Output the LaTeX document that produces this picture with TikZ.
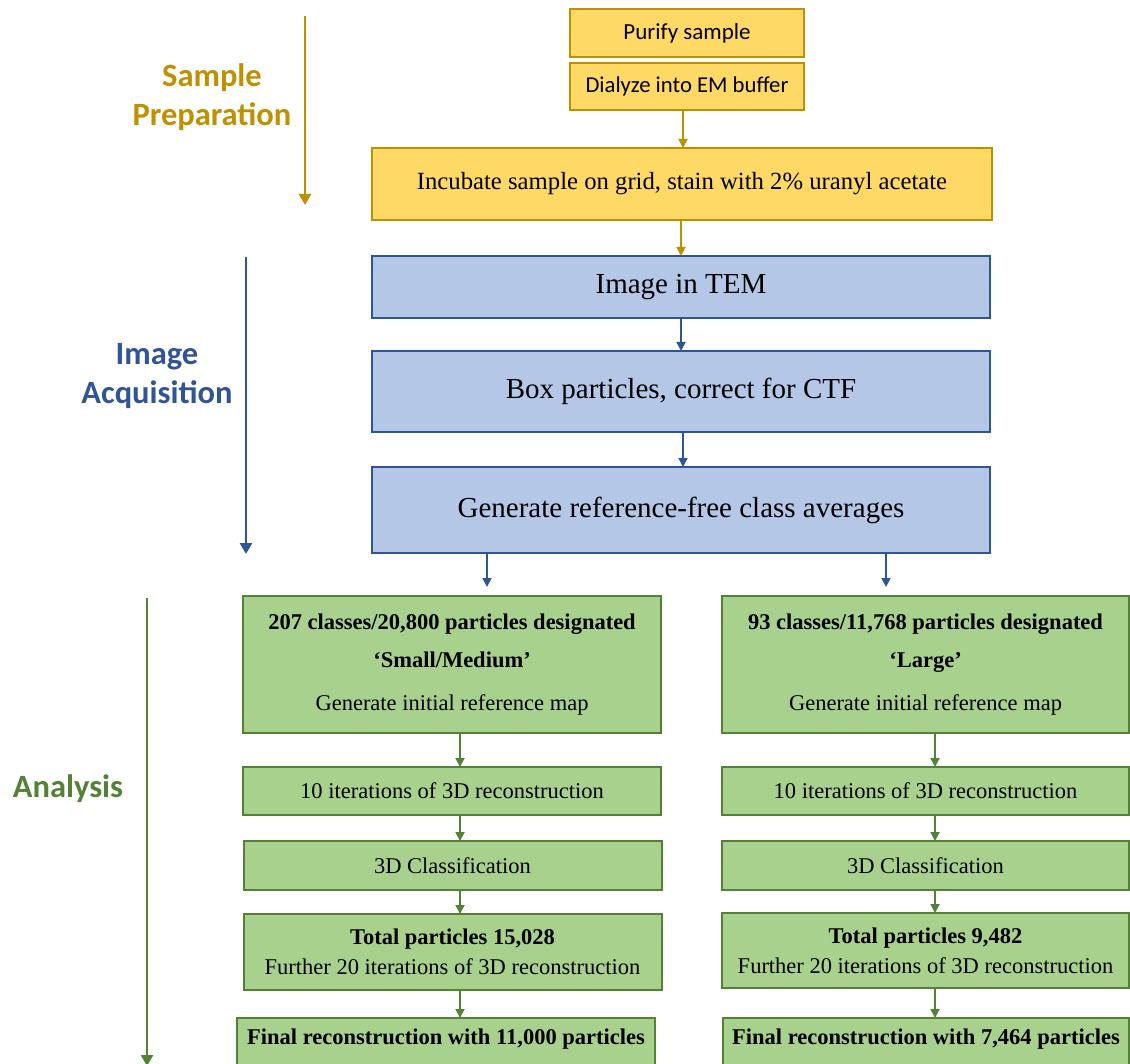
\documentclass[tikz,border=0pt]{standalone}
\usepackage{fontspec}
\setmainfont{Liberation Serif}
\newfontfamily\calib{Carlito}
\usetikzlibrary{arrows.meta,calc}
\definecolor{yfill}{HTML}{FFD966}
\definecolor{ydraw}{HTML}{BF9000}
\definecolor{bfill}{HTML}{B4C7E7}
\definecolor{bdraw}{HTML}{2F5597}
\definecolor{gfill}{HTML}{A9D18E}
\definecolor{gdraw}{HTML}{538135}
\definecolor{ylab}{HTML}{C09000}
\tikzset{
  base/.style={rectangle, inner sep=2pt, outer sep=0pt, line width=2pt, align=center, text=black},
  ybox/.style={base, fill=yfill, draw=ydraw},
  bbox/.style={base, fill=bfill, draw=bdraw, font=\fontsize{29}{34}\selectfont},
  gbox/.style={base, fill=gfill, draw=gdraw, font=\fontsize{22.5}{30}\selectfont},
  yarr/.style={draw=ydraw, line width=1.8pt, -{Triangle[width=9pt,length=9pt]}},
  barr/.style={draw=bdraw, line width=1.8pt, -{Triangle[width=9pt,length=9pt]}},
  garr/.style={draw=gdraw, line width=1.8pt, -{Triangle[width=9pt,length=9pt]}},
  tarr/.style={line width=2.6pt, -{Triangle[width=12pt,length=11pt]}},
  lab/.style={align=center, font=\calib\bfseries\fontsize{32.5}{39}\selectfont}
}
\begin{document}
\begin{tikzpicture}[x=1pt,y=-1pt]
\useasboundingbox (0,0) rectangle (1130,1064);
\clip (0,0) rectangle (1130,1064);

% timeline labels and arrows
\coordinate (t1a) at (305,16);
\coordinate (t1b) at (305,205);
\draw[tarr, draw=ydraw] (t1a) -- (t1b);
\node[lab, text=ylab] (lsp) at (212,97) {Sample\\Preparation};

\coordinate (t2a) at (246,257);
\coordinate (t2b) at (246,554);
\draw[tarr, draw=bdraw] (t2a) -- (t2b);
\node[lab, text=bdraw] (lia) at (157,376) {Image\\Acquisition};

\coordinate (t3a) at (147,598);
\coordinate (t3b) at (147,1066);
\draw[tarr, draw=gdraw] (t3a) -- (t3b);
\node[lab, text=gdraw] (lan) at (68,789) {Analysis};

% yellow boxes
\node[ybox, minimum width=234pt, minimum height=48pt, font=\calib\fontsize{23}{27}\selectfont] (purify) at (687,33) {Purify sample};
\node[ybox, minimum width=234pt, minimum height=47pt, font=\calib\fontsize{22.7}{27}\selectfont] (dialyze) at (687,86.5) {Dialyze into EM buffer};
\node[ybox, minimum width=620pt, minimum height=72pt, font=\fontsize{24.7}{29}\selectfont] (incubate) at (682,184) {Incubate sample on grid, stain with 2\% uranyl acetate};

% blue boxes
\node[bbox, minimum width=618pt, minimum height=62pt] (tem) at (681,287) {Image in TEM};
\node[bbox, minimum width=618pt, minimum height=81pt] (boxp) at (681,391.5) {Box particles, correct for CTF};
\node[bbox, minimum width=618pt, minimum height=86pt] (gen) at (681,510) {Generate reference-free class averages};

% green boxes left
\node[gbox, minimum width=418pt, minimum height=137pt] (L1) at (452,664.5) {\textbf{207 classes/20,800 particles designated}\\[8pt]\textbf{‘Small/Medium’}\\[13pt]Generate initial reference map};
\node[gbox, minimum width=418pt, minimum height=48pt] (L2) at (452,791) {10 iterations of 3D reconstruction};
\node[gbox, minimum width=418pt, minimum height=49pt] (L3) at (452.5,865.5) {3D Classification};
\node[gbox, minimum width=418pt, minimum height=76pt] (L4) at (452.5,952) {\textbf{Total particles 15,028}\\Further 20 iterations of 3D reconstruction};
\node[gbox, minimum width=418pt, minimum height=62pt, text depth=24pt] (L5) at (446,1049) {\textbf{Final reconstruction with 11,000 particles}};

% green boxes right
\node[gbox, minimum width=407pt, minimum height=137pt] (R1) at (925.5,664.5) {\textbf{93 classes/11,768 particles designated}\\[8pt]\textbf{‘Large’}\\[13pt]Generate initial reference map};
\node[gbox, minimum width=407pt, minimum height=48pt] (R2) at (925.5,791) {10 iterations of 3D reconstruction};
\node[gbox, minimum width=407pt, minimum height=49pt] (R3) at (925.5,865.5) {3D Classification};
\node[gbox, minimum width=407pt, minimum height=75pt] (R4) at (925.5,950.5) {\textbf{Total particles 9,482}\\Further 20 iterations of 3D reconstruction};
\node[gbox, minimum width=406pt, minimum height=62pt, text depth=24pt] (R5) at (926,1049) {\textbf{Final reconstruction with 7,464 particles}};

% arrows
\draw[yarr] ([xshift=-4pt]dialyze.south) -- ([xshift=-4pt]dialyze.south |- incubate.north);
\draw[yarr] ([xshift=-1pt]incubate.south) -- ([xshift=-1pt]incubate.south |- tem.north);
\draw[barr] (tem.south) -- (tem.south |- boxp.north);
\draw[barr] ([xshift=2pt]boxp.south) -- ([xshift=2pt]boxp.south |- gen.north);
\draw[barr, shorten >=9pt] ([xshift=-194pt]gen.south) -- ([xshift=-194pt]gen.south |- L1.north);
\draw[barr, shorten >=9pt] ([xshift=205pt]gen.south) -- ([xshift=205pt]gen.south |- R1.north);

\draw[garr] ([xshift=8pt]L1.south) -- ([xshift=8pt]L1.south |- L2.north);
\draw[garr] ([xshift=8pt]L2.south) -- ([xshift=8pt]L2.south |- L3.north);
\draw[garr] ([xshift=7.5pt]L3.south) -- ([xshift=7.5pt]L3.south |- L4.north);
\draw[garr] ([xshift=7.5pt]L4.south) -- ([xshift=7.5pt]L4.south |- L5.north);

\draw[garr] ([xshift=9.5pt]R1.south) -- ([xshift=9.5pt]R1.south |- R2.north);
\draw[garr] ([xshift=9.5pt]R2.south) -- ([xshift=9.5pt]R2.south |- R3.north);
\draw[garr] ([xshift=9.5pt]R3.south) -- ([xshift=9.5pt]R3.south |- R4.north);
\draw[garr] ([xshift=9.5pt]R4.south) -- ([xshift=9.5pt]R4.south |- R5.north);
\end{tikzpicture}
\end{document}
